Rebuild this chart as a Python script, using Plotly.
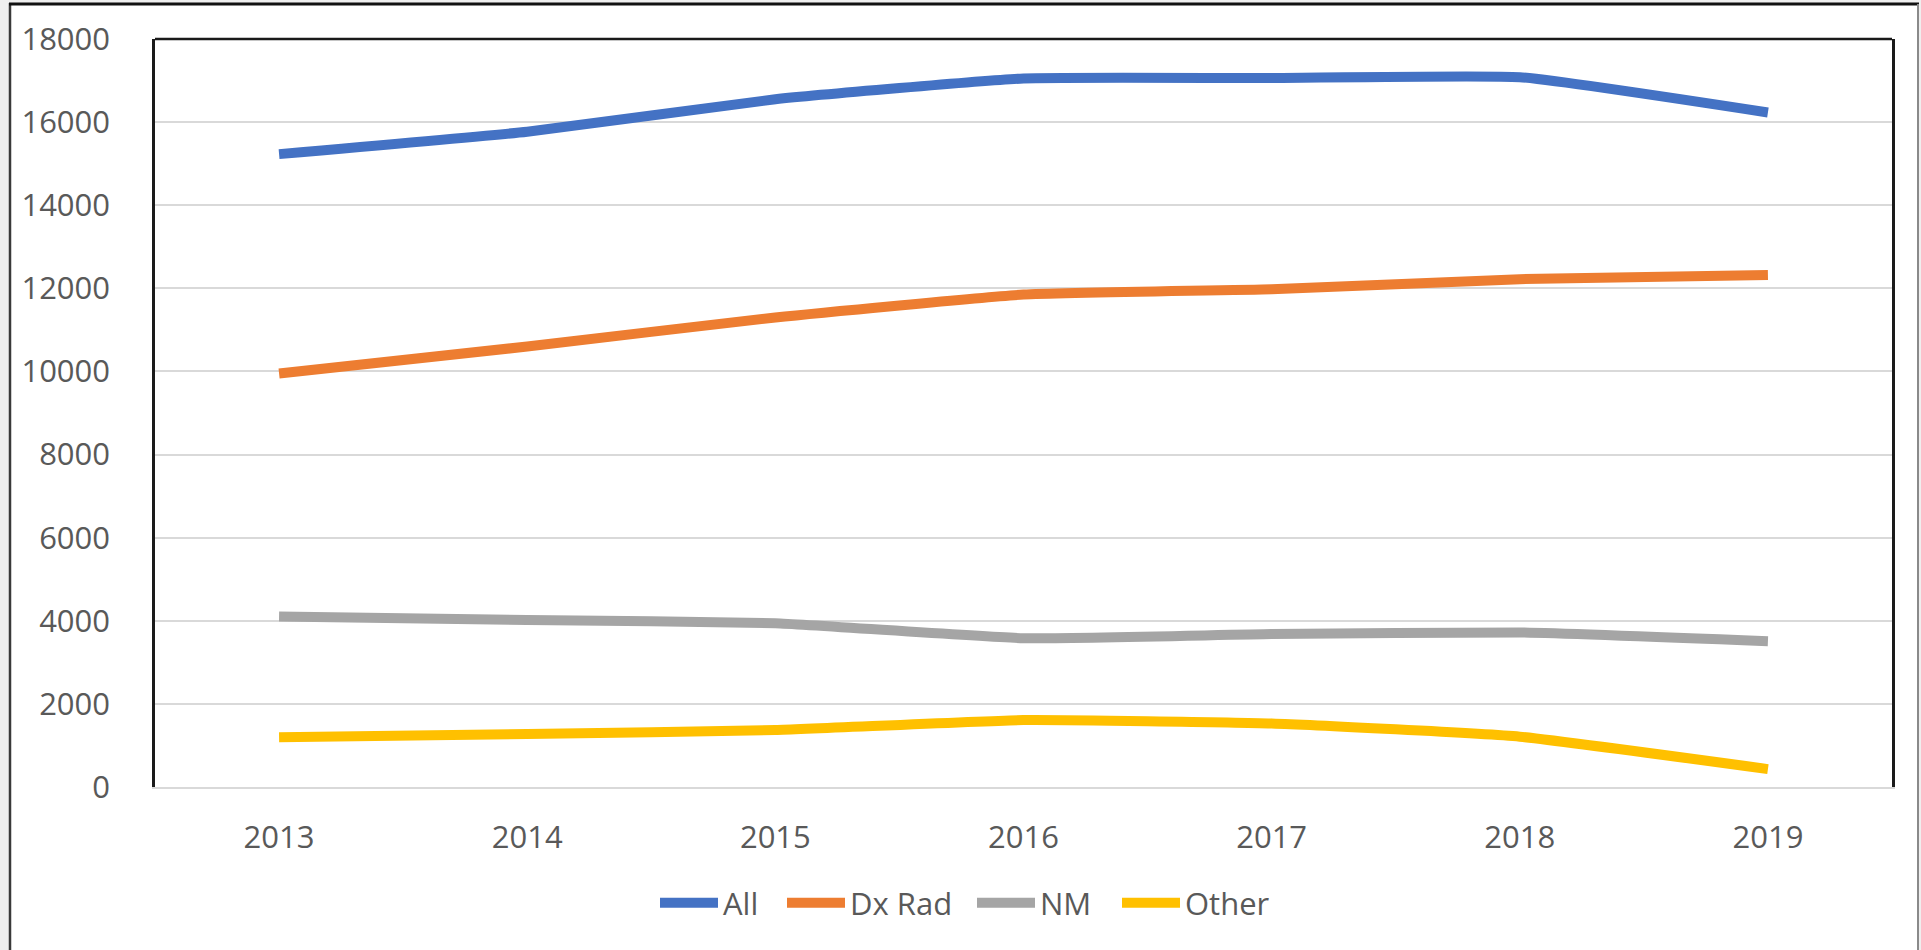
import plotly.graph_objects as go

# ---- data ----
years = ["2013", "2014", "2015", "2016", "2017", "2018", "2019"]
all_vals = [15230, 15770, 16550, 17050, 17060, 17080, 16230]
dxrad_vals = [9950, 10600, 11300, 11850, 11980, 12220, 12320]
nm_vals = [4100, 4020, 3940, 3580, 3680, 3720, 3510]
other_vals = [1200, 1275, 1370, 1610, 1530, 1210, 430]
series_names = ["All", "Dx Rad", "NM", "Other"]
series_colors = ["#4472C4", "#ED7D31", "#A5A5A5", "#FFC000"]
y_ticks = [0, 2000, 4000, 6000, 8000, 10000, 12000, 14000, 16000, 18000]

# ---- layout geometry (pixels) ----
W, H = 1921, 950
L, R, T, B = 155, 1892, 39, 787
PW, PH = R - L, B - T
legend_left_px = [655, 782, 972, 1117]  # left edge of each legend entry


def px(x):
    return (x - L) / PW


def py(y):
    return (B - y) / PH


TXT = "#595959"
FONT = "Open Sans"
legend_ids = ["legend", "legend2", "legend3", "legend4"]

fig = go.Figure()
for name, vals, color, lid in zip(series_names, [all_vals, dxrad_vals, nm_vals, other_vals],
                                  series_colors, legend_ids):
    fig.add_trace(go.Scatter(
        x=years, y=vals, mode="lines", name=name, legend=lid,
        line=dict(color=color, width=10, shape="spline", smoothing=0.4),
    ))

shapes = [
    dict(type="rect", xref="paper", yref="paper", x0=px(0), x1=px(9), y0=py(950), y1=py(0),
         fillcolor="#efefef", line=dict(width=0), layer="below"),
    dict(type="rect", xref="paper", yref="paper", x0=px(9), x1=px(1921), y0=py(3), y1=py(0),
         fillcolor="#efefef", line=dict(width=0), layer="below"),
    dict(type="rect", xref="paper", yref="paper", x0=px(1919), x1=px(1921), y0=py(950), y1=py(0),
         fillcolor="#efefef", line=dict(width=0), layer="below"),
    dict(type="line", xref="paper", yref="paper", x0=px(10), x1=px(10), y0=py(950), y1=py(3),
         line=dict(color="#3a3a3a", width=2.5)),
    dict(type="line", xref="paper", yref="paper", x0=px(9), x1=px(1919), y0=py(4), y1=py(4),
         line=dict(color="#111111", width=3)),
    dict(type="line", xref="paper", yref="paper", x0=px(1918), x1=px(1918), y0=py(950), y1=py(4),
         line=dict(color="#8a8a8a", width=2)),
    dict(type="line", xref="paper", yref="paper", x0=0, x1=1, y0=1, y1=1,
         line=dict(color="#1a1a1a", width=2.5)),
]

legend_common = dict(
    orientation="h", xanchor="left", y=py(903), yanchor="middle",
    font=dict(family=FONT, size=31, color=TXT),
    itemwidth=58, bgcolor="rgba(0,0,0,0)",
)
legend_layout = {lid: dict(legend_common, x=px(xl)) for lid, xl in zip(legend_ids, legend_left_px)}

fig.update_layout(
    width=W, height=H,
    margin=dict(l=L, r=W - R, t=T, b=H - B, autoexpand=False),
    paper_bgcolor="white", plot_bgcolor="white",
    font=dict(family=FONT, size=31, color=TXT),
    showlegend=True,
    shapes=shapes,
    xaxis=dict(
        type="category", range=[-0.5, 6.5], showgrid=False,
        showline=True, linecolor="#d9d9d9", linewidth=2,
        ticks="", ticklabelstandoff=22, zeroline=False,
        tickfont=dict(family=FONT, size=31, color=TXT),
    ),
    yaxis=dict(
        range=[0, 18000], tickvals=y_ticks, ticktext=[str(v) for v in y_ticks],
        showgrid=True, gridcolor="#d9d9d9", gridwidth=1.5,
        showline=True, linecolor="#1a1a1a", linewidth=2.5, mirror=True,
        zeroline=False, ticks="", ticklabelstandoff=36,
        tickfont=dict(family=FONT, size=31, color=TXT),
    ),
    **legend_layout,
)

fig.write_html(
    "out.html",
    config={"displayModeBar": False},
    post_script="document.body.style.margin='0';document.body.style.overflow='hidden';",
)
